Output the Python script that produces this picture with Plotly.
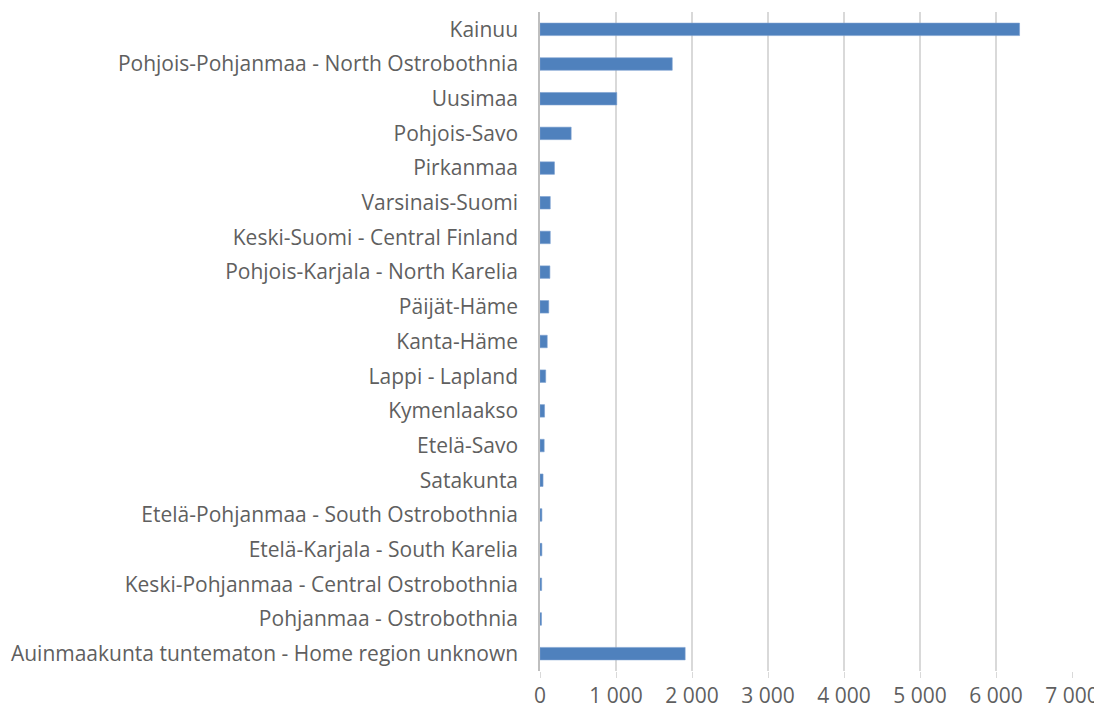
import plotly.graph_objects as go

regions = [
    "Kainuu",
    "Pohjois-Pohjanmaa - North Ostrobothnia",
    "Uusimaa",
    "Pohjois-Savo",
    "Pirkanmaa",
    "Varsinais-Suomi",
    "Keski-Suomi - Central Finland",
    "Pohjois-Karjala - North Karelia",
    "Päijät-Häme",
    "Kanta-Häme",
    "Lappi - Lapland",
    "Kymenlaakso",
    "Etelä-Savo",
    "Satakunta",
    "Etelä-Pohjanmaa - South Ostrobothnia",
    "Etelä-Karjala - South Karelia",
    "Keski-Pohjanmaa - Central Ostrobothnia",
    "Pohjanmaa - Ostrobothnia",
    "Auinmaakunta tuntematon - Home region unknown",
]
values = [6310, 1740, 1010, 410, 190, 135, 135, 130, 115, 95, 75, 60, 55, 40, 25, 25, 22, 20, 1910]
x_ticks = [0, 1000, 2000, 3000, 4000, 5000, 6000, 7000]

fig = go.Figure(
    go.Bar(
        y=regions,
        x=values,
        orientation="h",
        marker=dict(color="#4f81bd", line=dict(color="#7a9fd0", width=0.6)),
        width=0.36,
    )
)

# page body has an 8px margin, so the figure is a bit smaller than the window
fig.update_layout(
    width=1094,
    height=703,
    margin=dict(l=532, r=30, t=4, b=40),
    plot_bgcolor="white",
    paper_bgcolor="white",
    separators=", ",
    showlegend=False,
    font=dict(family="Open Sans", size=21, color="#5f5f5f"),
    xaxis=dict(
        range=[0, 7000],
        tickvals=x_ticks,
        tickformat=",d",
        showgrid=True,
        gridcolor="#d9d9d9",
        gridwidth=1.5,
        zeroline=False,
        ticks="outside",
        ticklen=6,
        tickcolor="#d9d9d9",
        automargin=False,
        tickfont=dict(size=21, color="#5f5f5f"),
    ),
    yaxis=dict(
        autorange="reversed",
        showline=True,
        linecolor="#bfbfbf",
        linewidth=1.5,
        ticks="",
        ticklabelstandoff=16,
        automargin=False,
        tickfont=dict(size=21, color="#5f5f5f"),
    ),
)

fig.write_html("out.html")
